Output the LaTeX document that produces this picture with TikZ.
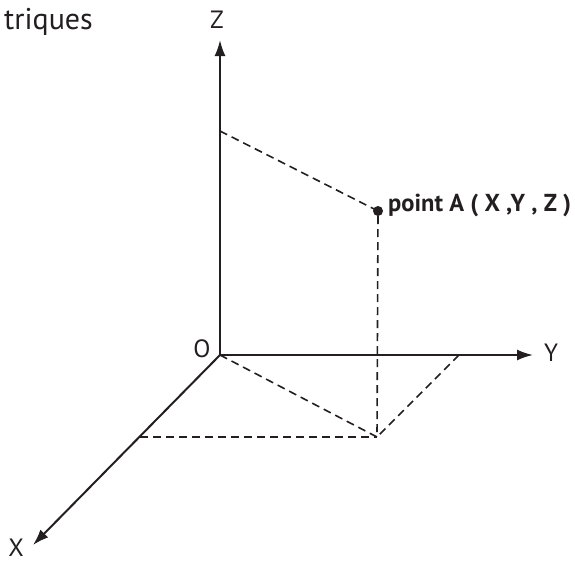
\documentclass[tikz,border=0pt]{standalone}
\usepackage{fontspec}
\setmainfont{PT Sans}
\usetikzlibrary{arrows.meta,positioning}
\definecolor{inkGrey}{RGB}{35,31,32}

\begin{document}
\begin{tikzpicture}[x=1pt,y=-1pt,
  axis/.style={-{Latex[length=16pt,width=11pt]},line width=2pt,inkGrey},
  proj/.style={dash pattern=on 8pt off 5pt,line width=1.6pt,inkGrey},
  lbl/.style={font=\fontsize{25}{27}\selectfont,text=inkGrey,inner sep=0pt}
]
  \useasboundingbox (0,0) rectangle (575,566);
  \coordinate (O) at (220,355);
  \coordinate (zend) at (220,40);
  \coordinate (yend) at (533,355);
  \coordinate (xend) at (33,545);
  \coordinate (za) at (220,131);
  \coordinate (ya) at (459,355);
  \coordinate (xa) at (140,437);
  \coordinate (P) at (377,437);
  \node[circle,fill=inkGrey,inner sep=0pt,minimum size=10pt] (A) at (378,211) {};
  \node[lbl,font=\fontsize{30}{32}\selectfont,anchor=east] (title) at (93,22) {triques};
  \node[lbl] (zlbl) at (217,20) {Z};
  \node[lbl] (ylbl) at (551,353) {Y};
  \node[lbl] (xlbl) at (16,548) {X};
  \node[lbl] (olbl) at (202,349) {O};
  \node[lbl,font=\bfseries\fontsize{24.5}{26}\selectfont,anchor=west] (albl) at (388,205) {point A ( X ,Y , Z )};
  \draw[axis] (O) -- (zend);
  \draw[axis] (O) -- (yend);
  \draw[axis] (O) -- (xend);
  \draw[proj] (za) -- (A.center);
  \draw[proj] (A) -- (P);
  \draw[proj] (O) -- (P);
  \draw[proj] (ya) -- (P);
  \draw[proj] (xa) -- (P);
\end{tikzpicture}
\end{document}
